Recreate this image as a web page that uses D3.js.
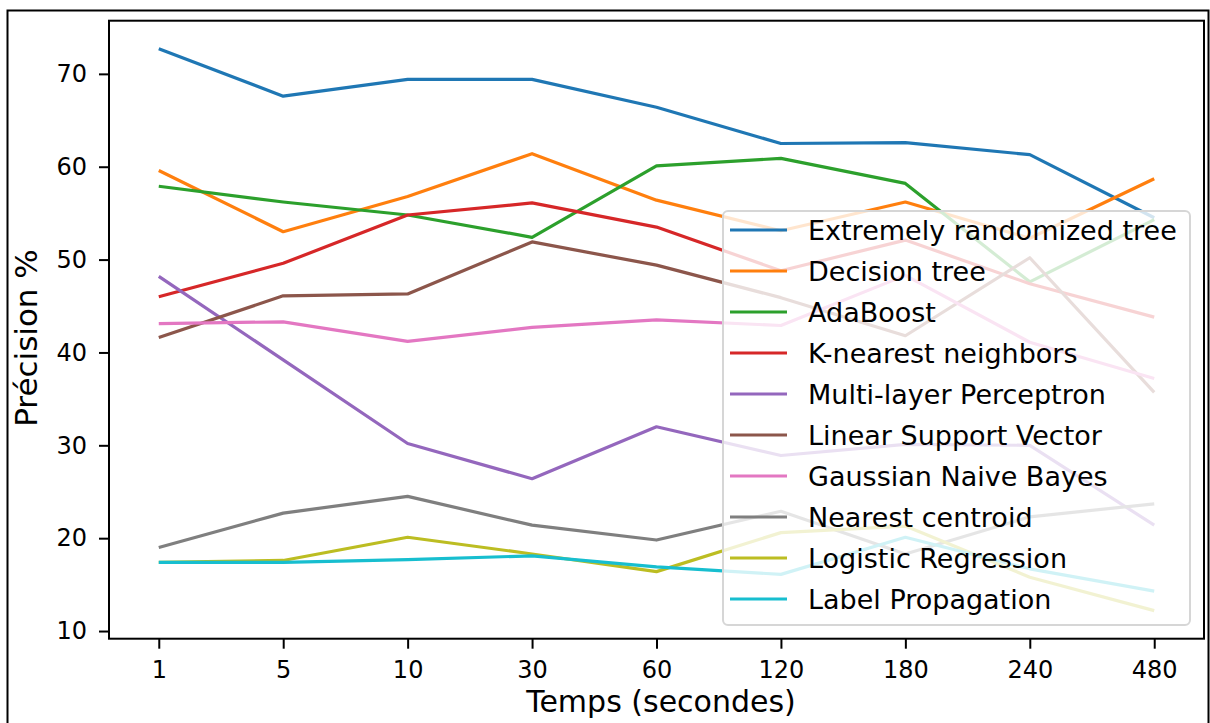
<!DOCTYPE html>
<html>
<head>
<meta charset="utf-8">
<script src="https://cdn.jsdelivr.net/npm/d3@7"></script>
<style>
  body { margin: 0; background: #fff; }
  svg text { font-family: "DejaVu Sans", sans-serif; fill: #000; }
</style>
</head>
<body>
<div id="chart"></div>
<script>
// temps (secondes) sur l'axe x
const times = ["1", "5", "10", "30", "60", "120", "180", "240", "480"];
const names = [
  "Extremely randomized tree", "Decision tree", "AdaBoost", "K-nearest neighbors",
  "Multi-layer Perceptron", "Linear Support Vector", "Gaussian Naive Bayes",
  "Nearest centroid", "Logistic Regression", "Label Propagation"
];
const extraTrees   = [72.7, 67.6, 69.4, 69.4, 66.4, 62.5, 62.6, 61.3, 54.5];
const decisionTree = [59.6, 53.0, 56.8, 61.4, 56.4, 53.1, 56.2, 52.3, 58.7];
const adaBoost     = [57.9, 56.2, 54.8, 52.4, 60.1, 60.9, 58.2, 47.6, 54.3];
const knn          = [46.0, 49.6, 54.8, 56.1, 53.5, 48.8, 52.1, 47.4, 43.8];
const mlp          = [48.2, 39.2, 30.2, 26.4, 32.0, 28.9, 30.1, 30.0, 21.4];
const linearSvc    = [41.6, 46.1, 46.3, 51.9, 49.4, 45.9, 41.8, 50.2, 35.7];
const gaussianNb   = [43.1, 43.3, 41.2, 42.7, 43.5, 42.9, 48.3, 41.1, 37.2];
const nearestCent  = [19.0, 22.7, 24.5, 21.4, 19.8, 22.9, 18.3, 22.3, 23.7];
const logReg       = [17.4, 17.6, 20.1, 18.3, 16.4, 20.6, 21.3, 15.8, 12.2];
const labelProp    = [17.4, 17.4, 17.7, 18.1, 16.9, 16.1, 20.1, 16.7, 14.3];
const yTicks = [10, 20, 30, 40, 50, 60, 70];

const series = [extraTrees, decisionTree, adaBoost, knn, mlp, linearSvc,
  gaussianNb, nearestCent, logReg, labelProp];

const width = 1210, height = 723;
const axLeft = 109, axRight = 1204, axTop = 20.7, axBottom = 638.7;

const svg = d3.select("#chart").append("svg")
  .attr("width", width)
  .attr("height", height);

// cadre extérieur
svg.append("rect")
  .attr("x", 7.5).attr("y", 10.5)
  .attr("width", 1201).attr("height", 800)
  .attr("fill", "none").attr("stroke", "#000").attr("stroke-width", 2);

const x = d3.scalePoint().domain(times).range([axLeft, axRight]).padding(0.4);

// marge de 5% comme matplotlib
const all = series.flat();
const [lo, hi] = d3.extent(all);
const m = (hi - lo) * 0.05;
const y = d3.scaleLinear().domain([lo - m, hi + m]).range([axBottom, axTop]);

const line = d3.line()
  .x((d, i) => x(times[i]))
  .y(d => y(d));

series.forEach((s, k) => {
  svg.append("path")
    .attr("d", line(s))
    .attr("fill", "none")
    .attr("stroke", d3.schemeCategory10[k])
    .attr("stroke-width", 3.2)
    .attr("stroke-linejoin", "round");
});

// axes
const gy = svg.append("g")
  .attr("transform", `translate(${axLeft},0)`)
  .call(d3.axisLeft(y).tickValues(yTicks).tickSize(10).tickPadding(12));
const gx = svg.append("g")
  .attr("transform", `translate(0,${axBottom})`)
  .call(d3.axisBottom(x).tickSize(10).tickPadding(12));
[gx, gy].forEach(g => {
  g.select(".domain").remove();
  g.selectAll(".tick line").attr("stroke", "#000").attr("stroke-width", 2);
  g.selectAll(".tick text").attr("font-size", 24).attr("fill", "#000")
    .attr("font-family", "DejaVu Sans, sans-serif");
});

svg.append("rect")
  .attr("x", axLeft).attr("y", axTop)
  .attr("width", axRight - axLeft).attr("height", axBottom - axTop)
  .attr("fill", "none").attr("stroke", "#000").attr("stroke-width", 2);

// titres des axes
svg.append("text")
  .attr("transform", "translate(37,338) rotate(-90)")
  .attr("text-anchor", "middle")
  .attr("font-size", 31)
  .text("Précision %");
svg.append("text")
  .attr("x", 661).attr("y", 712)
  .attr("text-anchor", "middle")
  .attr("font-size", 30)
  .text("Temps (secondes)");

// légende
const lg = svg.append("g");
lg.append("rect")
  .attr("x", 723).attr("y", 211)
  .attr("width", 467).attr("height", 414)
  .attr("rx", 5)
  .attr("fill", "#fff").attr("fill-opacity", 0.8)
  .attr("stroke", "#d6d6d6").attr("stroke-width", 2);
names.forEach((name, k) => {
  const cy = 230 + k * 41;
  lg.append("line")
    .attr("x1", 730).attr("x2", 787)
    .attr("y1", cy).attr("y2", cy)
    .attr("stroke", d3.schemeCategory10[k])
    .attr("stroke-width", 3.2);
  lg.append("text")
    .attr("x", 808).attr("y", cy)
    .attr("dy", "0.36em")
    .attr("font-size", 27)
    .attr("fill", "#1a1a1a")
    .text(name);
});
</script>
</body>
</html>
